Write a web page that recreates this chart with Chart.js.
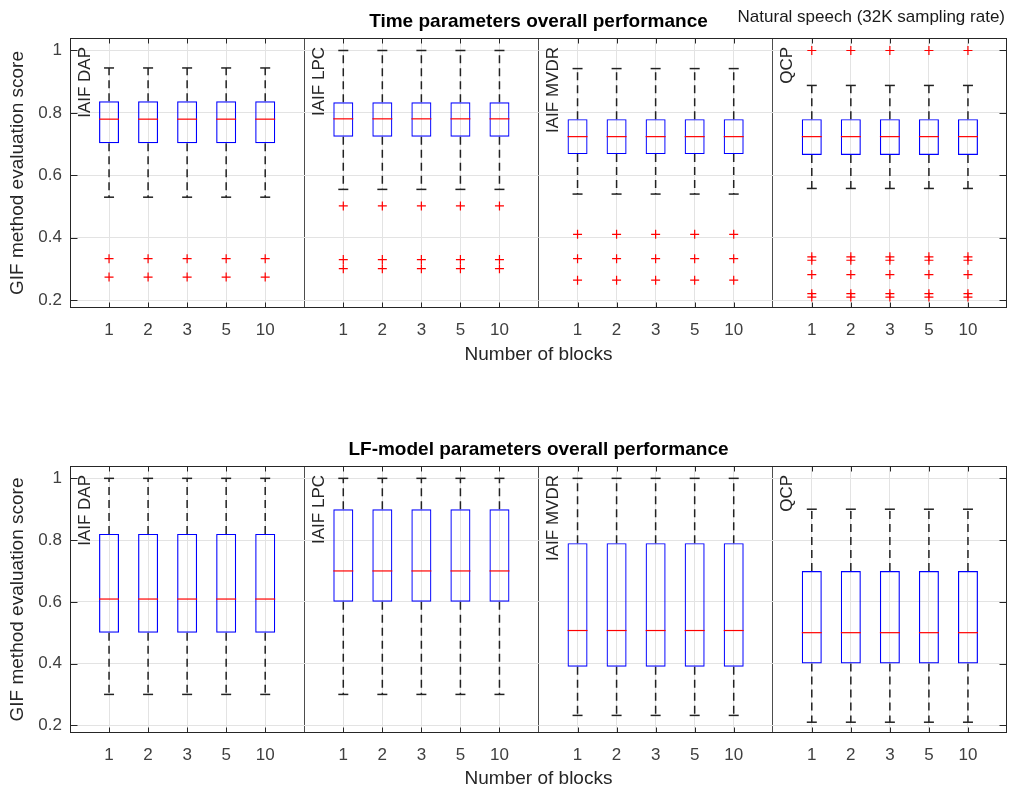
<!DOCTYPE html>
<html>
<head>
<meta charset="utf-8">
<script src="https://cdn.jsdelivr.net/npm/chart.js@4.4.1/dist/chart.umd.min.js"></script>
<style>
  body { margin: 0; background: #fff; width: 1012px; height: 791px; overflow: hidden; position: relative; }
  canvas { position: absolute; left: 0; }
  #timeChart { top: 0; }
  #lfChart { top: 420px; }
</style>
</head>
<body>
<canvas id="timeChart" width="1012" height="372"></canvas>
<canvas id="lfChart" width="1012" height="371"></canvas>
<script>
//------------------------------- DATA -------------------------------------
const blockCounts = ['1', '2', '3', '5', '10'];
const methods = ['IAIF DAP', 'IAIF LPC', 'IAIF MVDR', 'QCP'];
const yTicks = [0.2, 0.4, 0.6, 0.8, 1];

// Time parameters: one value per method (every block count shows the same box)
const timeLow = [0.53, 0.555, 0.54, 0.558];
const timeQ1 = [0.703, 0.724, 0.668, 0.665];
const timeMed = [0.78, 0.781, 0.724, 0.724];
const timeQ3 = [0.837, 0.834, 0.78, 0.78];
const timeHigh = [0.944, 1.0, 0.942, 0.888];
const timeOut = [
    [0.333, 0.274],
    [0.502, 0.33, 0.301],
    [0.411, 0.333, 0.264],
    [1.0, 0.339, 0.328, 0.282, 0.221, 0.21]
];

// LF-model parameters
const lfLow = [0.3, 0.3, 0.232, 0.21];
const lfQ1 = [0.5, 0.6, 0.39, 0.4];
const lfMed = [0.609, 0.7, 0.507, 0.5];
const lfQ3 = [0.82, 0.9, 0.79, 0.7];
const lfHigh = [1.0, 1.0, 1.0, 0.9];
const lfOut = [[], [], [], []];

//------------------------------- SETUP ------------------------------------
const FONT = '"Liberation Sans", Arial, Helvetica, sans-serif';
const AXIS_COLOR = '#262626';
Chart.defaults.font.family = FONT;
Chart.defaults.color = '#333';

const groupSize = blockCounts.length + 1; // 5 boxes + gap for the separator

// frame, inner ticks, method labels and titles
const framePlugin = {
    id: 'frame',
    afterDatasetsDraw(chart, args, opts) {
        const { ctx, chartArea: a, scales: { x, y } } = chart;
        ctx.save();
        ctx.strokeStyle = AXIS_COLOR;
        ctx.lineWidth = 1;
        const L = Math.round(a.left) + 0.5, R = Math.round(a.right) - 0.5;
        const T = Math.round(a.top) + 0.5, B = Math.round(a.bottom) - 0.5;

        // inner tick marks
        ctx.beginPath();
        methods.forEach((m, g) => {
            blockCounts.forEach((b, i) => {
                const px = Math.round(x.getPixelForValue(g * groupSize + i + 1)) + 0.5;
                ctx.moveTo(px, T); ctx.lineTo(px, T + 5);
                ctx.moveTo(px, B); ctx.lineTo(px, B - 5);
            });
        });
        yTicks.forEach(v => {
            const py = Math.round(y.getPixelForValue(v)) + 0.5;
            ctx.moveTo(L, py); ctx.lineTo(L + 7, py);
            ctx.moveTo(R, py); ctx.lineTo(R - 7, py);
        });
        ctx.stroke();
        ctx.strokeRect(L, T, R - L, B - T);

        // method names, rotated, at the top of each group
        ctx.fillStyle = AXIS_COLOR;
        ctx.font = '17px ' + FONT;
        methods.forEach((m, g) => {
            const px = x.getPixelForValue(g * groupSize) + 15;
            ctx.save();
            ctx.translate(px, a.top + 9);
            ctx.rotate(-Math.PI / 2);
            ctx.textAlign = 'right';
            ctx.textBaseline = 'middle';
            ctx.fillText(m, 0, 0);
            ctx.restore();
        });

        // title
        ctx.fillStyle = '#000';
        ctx.font = 'bold 19px ' + FONT;
        ctx.textAlign = 'center';
        ctx.textBaseline = 'middle';
        ctx.fillText(opts.title, (a.left + a.right) / 2, a.top - 16);
        if (opts.note) {
            ctx.font = '17px ' + FONT;
            ctx.fillStyle = '#1a1a1a';
            ctx.textAlign = 'right';
            ctx.fillText(opts.note, a.right - 2, a.top - 21);
        }
        ctx.restore();
    }
};

function buildChart(canvasId, low, q1, med, q3, high, outliers, title, note, padTop, xHeight, titlePad) {
    const boxes = [], medians = [], caps = [], whiskers = [], outs = [];
    methods.forEach((m, g) => {
        blockCounts.forEach((b, i) => {
            const xv = g * groupSize + i + 1;
            boxes.push({ x: xv, y: [q1[g], q3[g]] });
            medians.push({ x: xv, y: med[g] });
            caps.push({ x: xv, y: low[g] }, { x: xv, y: high[g] });
            whiskers.push(
                { x: xv, y: q3[g] }, { x: xv, y: high[g] }, { x: xv, y: null },
                { x: xv, y: q1[g] }, { x: xv, y: low[g] }, { x: xv, y: null }
            );
            outliers[g].forEach(v => outs.push({ x: xv, y: v }));
        });
    });

    const tickVals = [];
    methods.forEach((m, g) => {
        if (g > 0) tickVals.push(g * groupSize);
        blockCounts.forEach((b, i) => tickVals.push(g * groupSize + i + 1));
    });

    return new Chart(document.getElementById(canvasId), {
        type: 'bar',
        data: {
            datasets: [
                {
                    type: 'scatter', data: medians, pointStyle: 'line', pointRadius: 10,
                    borderColor: '#ff0000', borderWidth: 1.2
                },
                {
                    type: 'scatter', data: outs, pointStyle: 'cross', pointRadius: 4.5,
                    borderColor: '#ff0000', borderWidth: 1.2
                },
                {
                    type: 'scatter', data: caps, pointStyle: 'line', pointRadius: 5,
                    borderColor: '#222', borderWidth: 1.5
                },
                {
                    type: 'bar', data: boxes, barThickness: 20, borderColor: '#0000ff',
                    backgroundColor: 'rgba(0,0,0,0)', borderWidth: 1.2, borderSkipped: false,
                    inflateAmount: 0
                },
                {
                    type: 'line', data: whiskers, borderColor: '#222', borderWidth: 1.5,
                    borderDash: [8, 5], pointRadius: 0, spanGaps: false, fill: false
                }
            ]
        },
        options: {
            responsive: false,
            animation: false,
            events: [],
            devicePixelRatio: 1,
            layout: { autoPadding: false, padding: { top: padTop, left: 0, right: 5, bottom: 0 } },
            plugins: {
                legend: { display: false },
                tooltip: { enabled: false },
                frame: { title: title, note: note }
            },
            scales: {
                x: {
                    type: 'linear',
                    min: 0,
                    max: methods.length * groupSize,
                    offset: false,
                    grid: {
                        offset: false,
                        drawTicks: false,
                        color: (c) => (c.tick && c.tick.value % groupSize === 0) ? '#4d4d4d' : '#e3e3e3'
                    },
                    border: { display: false },
                    afterBuildTicks: (scale) => { scale.ticks = tickVals.map(v => ({ value: v })); },
                    afterFit: (scale) => {
                        scale.height = xHeight;
                        scale.paddingLeft = 0;
                        scale.paddingRight = 0;
                    },
                    ticks: {
                        autoSkip: false,
                        maxRotation: 0,
                        padding: 12,
                        color: '#404040',
                        font: { size: 17 },
                        callback: (v) => {
                            const idx = v % groupSize;
                            return idx === 0 ? '' : blockCounts[idx - 1];
                        }
                    },
                    title: {
                        display: true,
                        text: 'Number of blocks',
                        color: AXIS_COLOR,
                        font: { size: 19 },
                        padding: { top: 0, bottom: titlePad }
                    }
                },
                y: {
                    min: 0.175,
                    max: 1.04,
                    beginAtZero: false,
                    grid: { drawTicks: false, color: '#e3e3e3' },
                    border: { display: false },
                    afterBuildTicks: (scale) => { scale.ticks = yTicks.map(v => ({ value: v })); },
                    afterFit: (scale) => { scale.width = 70; },
                    ticks: {
                        padding: 8,
                        color: '#404040',
                        font: { size: 17 },
                        callback: (v) => String(v)
                    },
                    title: {
                        display: true,
                        text: 'GIF method evaluation score',
                        color: AXIS_COLOR,
                        font: { size: 19 },
                        padding: { top: 6, bottom: 0 }
                    }
                }
            }
        },
        plugins: [framePlugin]
    });
}

buildChart('timeChart', timeLow, timeQ1, timeMed, timeQ3, timeHigh, timeOut,
    'Time parameters overall performance', 'Natural speech (32K sampling rate)', 38, 64, 6);
buildChart('lfChart', lfLow, lfQ1, lfMed, lfQ3, lfHigh, lfOut,
    'LF-model parameters overall performance', '', 46, 58, 1);
</script>
</body>
</html>
